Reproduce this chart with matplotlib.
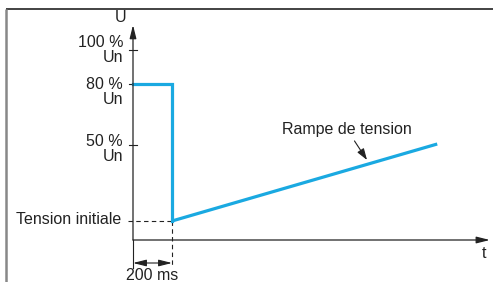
import matplotlib
matplotlib.use("Agg")
import matplotlib.pyplot as plt

plt.rcParams['font.family'] = ['Liberation Sans', 'DejaVu Sans']

# Schematic data (x in ms, y in schematic level units)
level_labels = ["100 %\nUn", "80 %\nUn", "50 %\nUn", "Tension initiale"]
level_pos = [190, 156, 95, 19]
step_t = [0, 200, 200]
step_v = [156, 156, 19]
ramp_t = [200, 1560]
ramp_v = [19, 96]
delay_ms = 200
t_axis_end = 1830
u_axis_end = 215

BLUE = "#1aa9e1"
DARK = "#222222"
FS = 11.5

fig = plt.figure(figsize=(4.93, 2.82), dpi=100)
ax = fig.add_axes([0, 0, 1, 1])
ax.set_xlim(-682, 1846)
ax.set_ylim(-42, 240)
ax.axis('off')

# frame (top and left)
ax.plot([-651, 1846], [231, 231], color=DARK, lw=1.2, solid_capstyle='butt')
ax.plot([-651, -651], [231, -42], color="#888888", lw=1.8, solid_capstyle='butt')

# axes with arrows
ax.annotate("", xy=(0, u_axis_end), xytext=(0, 0),
            arrowprops=dict(arrowstyle="-|>,head_length=0.8,head_width=0.2", color=DARK, lw=0.9, shrinkA=0, shrinkB=0))
ax.annotate("", xy=(t_axis_end, 0), xytext=(0, 0),
            arrowprops=dict(arrowstyle="-|>,head_length=0.8,head_width=0.2", color=DARK, lw=0.9, shrinkA=0, shrinkB=0))
ax.text(-62, 223, "U", ha='center', va='center', fontsize=FS, color=DARK)
ax.text(1800, -14, "t", ha='center', va='center', fontsize=FS, color=DARK)

# level ticks and labels (label vertical offsets in px, layout only)
label_shift = [0, -8, -4, 2]
for lab, y, dy in zip(level_labels, level_pos, label_shift):
    if lab.startswith("Tension"):
        ax.plot([-25, delay_ms], [y, y], color=DARK, lw=0.8, ls=(0, (4, 3)))
        ax.text(-62, y + dy, lab, ha='right', va='center', fontsize=FS, color=DARK)
    else:
        ax.plot([-22, 22], [y, y], color=DARK, lw=0.8)
        ax.text(-51, y + dy, lab, ha='right', va='center', fontsize=FS, color=DARK,
                linespacing=1.0, multialignment='right')

# dashed vertical at delay
ax.plot([delay_ms, delay_ms], [level_pos[3], -26], color=DARK, lw=0.8, ls=(0, (4, 3)))
# solid vertical at origin below axis
ax.plot([0, 0], [0, -28], color=DARK, lw=0.8)
# dimension arrow
ax.annotate("", xy=(0, -23), xytext=(delay_ms, -23),
            arrowprops=dict(arrowstyle="<|-|>,head_length=0.8,head_width=0.2", color=DARK, lw=0.8, shrinkA=0, shrinkB=0))
ax.text(delay_ms / 2, -35.5, "200 ms", ha='center', va='center', fontsize=FS, color=DARK)

# signal
ax.plot(step_t, step_v, color=BLUE, lw=2.3, solid_joinstyle='miter')
ax.plot(ramp_t, ramp_v, color=BLUE, lw=2.3, solid_capstyle='butt')

# annotation
ax.annotate("Rampe de tension", xy=(1200, 80), xytext=(1097, 103),
            ha='center', va='bottom', fontsize=FS, color=DARK,
            arrowprops=dict(arrowstyle="-|>,head_length=0.6,head_width=0.2", color=DARK, lw=0.8,
                            shrinkA=1, shrinkB=0))

fig.savefig("out.png", dpi=100)
